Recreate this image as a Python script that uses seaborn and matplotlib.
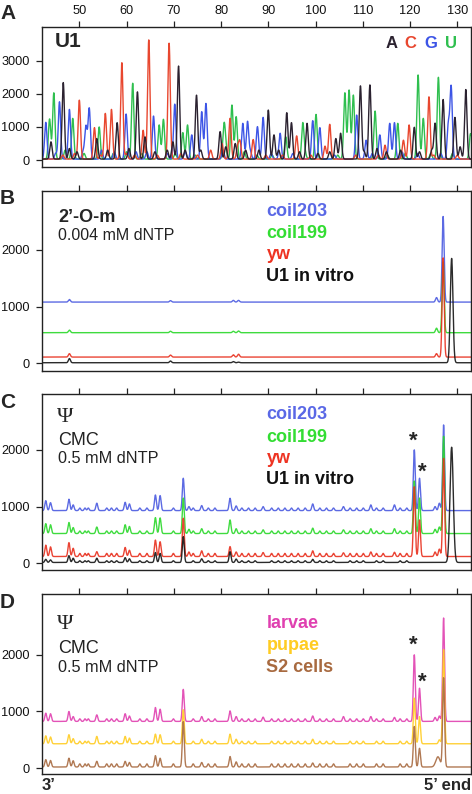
import numpy as np
import pandas as pd
import matplotlib
matplotlib.use("Agg")
import matplotlib.pyplot as plt
import seaborn as sns

# ---------------- data (peak positions in nucleotides, heights in signal units) -------------
# Panel A: U1 sequencing ladder (A black, C red, G blue, U green)
A_black_pos = [44.0, 46.6, 47.9, 49.5, 53.7, 56.0, 58.0, 60.5, 62.3, 63.9, 66.0, 68.6, 69.8, 71.0, 72.4,
               74.8, 75.7, 79.8, 81.0, 83.0, 85.2, 88.0, 90.0, 91.2, 92.2, 93.9, 94.9, 96.6, 98.2, 100.5,
               103.0, 104.3, 105.3, 109.5, 110.3, 111.5, 113.0, 115.0, 118.0, 120.9, 122.0, 124.6, 125.3,
               127.0, 129.5, 130.6, 131.8]
A_black_h = [550, 2340, 350, 250, 650, 300, 1130, 350, 2060, 700, 250, 300, 550, 2840, 300,
             1960, 300, 860, 400, 500, 300, 300, 1510, 760, 300, 1430, 1130, 250, 1110, 200,
             250, 650, 810, 2240, 250, 2270, 350, 250, 300, 990, 250, 300, 1110,
             1830, 1290, 400, 2130]
A_red_pos = [46.5, 49.0, 50.0, 53.2, 54.5, 55.5, 56.8, 59.0, 60.0, 61.7, 63.5, 64.7, 66.5, 69.0, 71.5,
             75.0, 77.8, 80.2, 81.9, 83.5, 84.0, 86.8, 89.5, 93.0, 96.0, 99.0, 102.0, 103.0, 108.5,
             113.3, 114.7, 118.6, 119.8, 124.0, 125.0, 130.0]
A_red_h = [150, 200, 1810, 980, 150, 1410, 1530, 2940, 200, 150, 900, 3630, 150, 3530, 200,
           150, 300, 500, 1260, 400, 550, 620, 150, 150, 730, 150, 420, 1080, 150,
           150, 450, 600, 1060, 1910, 150, 150]
A_blue_pos = [42.9, 45.0, 45.8, 47.9, 50.8, 51.4, 52.1, 54.7, 57.4, 59.9, 62.0, 64.3, 65.7, 68.6, 70.2,
              72.4, 73.8, 75.9, 76.8, 80.4, 84.6, 85.6, 86.2, 87.7, 88.9, 90.6, 92.5, 95.2, 99.4,
              100.9, 104.0, 108.7, 110.7, 112.0, 113.6, 115.7, 116.7, 118.3, 121.6, 126.5, 128.1, 128.7]
A_blue_h = [1140, 200, 1760, 1530, 250, 1010, 1560, 300, 250, 1390, 250, 250, 1330, 200, 1690,
            250, 760, 1460, 1710, 300, 1110, 1160, 250, 1010, 1290, 200, 810, 200, 1190,
            980, 150, 1360, 600, 200, 760, 1110, 1130, 250, 200, 200, 1060, 2200]
A_green_pos = [43.7, 44.6, 47.0, 48.6, 51.0, 54.2, 57.2, 60.0, 61.3, 63.2, 66.9, 67.8, 70.3, 71.9, 72.9,
               74.5, 80.6, 80.9, 82.3, 83.2, 84.9, 87.6, 90.8, 93.7, 97.3, 97.8, 100.1, 104.7, 106.2,
               107.1, 108.0, 112.6, 115.2, 117.4, 119.0, 121.7, 122.8, 124.4, 126.0, 129.0, 132.8]
A_green_h = [1240, 2030, 300, 1260, 200, 1000, 200, 250, 2320, 200, 1060, 1230, 200, 830, 1060,
             150, 900, 450, 1660, 1310, 250, 150, 150, 700, 1110, 200, 1380, 150, 2030,
             2110, 1960, 1480, 150, 1110, 200, 2570, 1260, 200, 2500, 200, 800]

# Panel B: 2'-O-m, 0.004 mM dNTP
B_baseline = {"coil203": 1080, "coil199": 540, "yw": 110, "U1 in vitro": 10}
B_pos = [47.9, 69.3, 82.6, 83.7, 125.6, 127.0, 128.8]
B_height = {"coil203":     [1125, 1105, 1110, 1110, 1160, 2590, 1080],
            "coil199":     [585, 565, 565, 570, 620, 1790, 540],
            "yw":          [170, 145, 150, 160, 170, 1860, 110],
            "U1 in vitro": [85, 40, 30, 20, 10, 10, 1850]}

# Panels C and D: shared small background bumps
CD_minor_pos = [50.1, 51.2, 51.9, 55.8, 56.8, 57.9, 62.8, 64.3, 69.9, 74.1, 77.3, 78.7, 84.4, 85.8, 87.2,
                90.7, 92.1, 93.5, 94.9, 96.3, 97.8, 100.9, 102.3, 103.8, 107.3, 108.7, 110.1, 112.9,
                114.3, 117.9, 119.3]

# Panel C: Psi, CMC, 0.5 mM dNTP
C_baseline = {"coil203": 930, "coil199": 525, "yw": 120, "U1 in vitro": 15}
C_minor = {"coil203": 45, "coil199": 45, "yw": 55, "U1 in vitro": 30}
C_pos = [42.9, 43.9, 47.8, 48.7, 53.7, 59.7, 60.6, 66.1, 67.1, 72.0, 73.2, 75.9, 81.9, 83.2, 88.9,
         99.4, 105.9, 111.7, 116.7, 120.9, 122.0, 125.3, 126.2, 127.1, 128.8]
C_height = {
    "coil203": [1105, 1070, 1130, 1030, 1060, 1076, 1047, 1205, 1194, 1500, 1000, 1018, 1147, 1012, 1000,
                1047, 1000, 1030, 1030, 2000, 1500, 1000, 1060, 2440, 930],
    "coil199": [700, 680, 720, 630, 640, 680, 650, 806, 800, 1150, 600, 610, 765, 610, 590,
                620, 590, 610, 610, 1450, 1150, 600, 640, 2240, 525],
    "yw":      [320, 290, 365, 265, 205, 280, 230, 410, 380, 795, 200, 220, 295, 200, 190,
                220, 185, 200, 195, 1350, 765, 200, 250, 1850, 120],
    "U1 in vitro": [70, 60, 135, 90, 90, 100, 80, 190, 175, 470, 15, 80, 205, 75, 15,
                    70, 15, 15, 15, 15, 15, 15, 15, 15, 2047]}

# Panel D: Psi, CMC, 0.5 mM dNTP, developmental stages
D_baseline = {"larvae": 825, "pupae": 430, "S2 cells": 20}
D_minor = {"larvae": 45, "pupae": 45, "S2 cells": 55}
D_pos = [42.9, 43.9, 47.8, 48.7, 53.7, 59.7, 60.6, 66.1, 67.1, 72.0, 75.9, 81.9, 83.2, 88.9, 99.4,
         105.9, 111.7, 116.7, 120.9, 122.0, 125.3, 125.9, 126.2, 127.1]
D_height = {
    "larvae":   [970, 960, 1000, 910, 940, 960, 920, 1070, 1040, 1390, 910, 1010, 910, 900, 920,
                 910, 910, 895, 2000, 1410, 895, 825, 920, 2650],
    "pupae":    [570, 550, 590, 520, 560, 560, 530, 600, 590, 1030, 510, 600, 510, 430, 510,
                 430, 430, 430, 1235, 910, 430, 430, 500, 2090],
    "S2 cells": [150, 135, 175, 130, 120, 120, 100, 220, 175, 820, 100, 205, 110, 20, 90,
                 20, 20, 20, 735, 350, 20, 200, 20, 1590]}

x_ticks = [50, 60, 70, 80, 90, 100, 110, 120, 130]

# ---------------- styles ----------------
A_colors = {"U": "#2fbf4f", "G": "#3d55e6", "C": "#e8472f", "A": "#2b2230"}
BC_colors = {"coil203": "#4a5ae0", "coil199": "#2ad82a", "yw": "#e8301e", "U1 in vitro": "#141414"}
BC_text = {"coil203": "#5a68e6", "coil199": "#33dd33", "yw": "#ee3322", "U1 in vitro": "#111111"}
D_colors = {"larvae": "#e040b0", "pupae": "#ffcc22", "S2 cells": "#a86a40"}

sns.set_theme(style="white")
plt.rcParams["font.family"] = ["Liberation Sans", "DejaVu Sans"]

W, H = 472, 794
fig = plt.figure(figsize=(W / 100, H / 100), dpi=100)
fig.patch.set_facecolor("white")
XLIM = (42.1, 132.9)
grid = np.arange(XLIM[0] - 0.5, XLIM[1] + 0.5, 0.02)


def trace(pos, heights, base, sigma, widths=None):
    y = np.full_like(grid, float(base))
    for p, h in zip(pos, heights):
        s = sigma if widths is None else widths.get(p, sigma)
        y += (h - base) * np.exp(-0.5 * ((grid - p) / s) ** 2)
    return y


def add_axes(top, bottom, ylim, yticks, toplabels=False):
    ax = fig.add_axes([42 / W, 1 - bottom / H, 429 / W, (bottom - top) / H])
    ax.set_xlim(*XLIM)
    ax.set_ylim(*ylim)
    ax.set_yticks(yticks)
    ax.set_yticklabels([str(t) for t in yticks])
    ax.xaxis.set_ticks_position("top")
    ax.set_xticks(x_ticks)
    ax.set_xticklabels([str(t) for t in x_ticks] if toplabels else [])
    ax.tick_params(axis="both", direction="out", length=4, width=0.9, color="#222222",
                   labelsize=9.2, pad=5, left=True, top=True, bottom=False, labelcolor="#111111")
    ax.tick_params(axis="x", pad=3.5)
    for s in ax.spines.values():
        s.set_linewidth(1.0)
        s.set_color("#222222")
    ax.set_xlabel("")
    ax.set_ylabel("")
    return ax


def draw(ax, y, color, lw=1.0, alpha=1.0):
    df = pd.DataFrame({"x": grid, "y": y})
    sns.lineplot(data=df, x="x", y="y", ax=ax, color=color, lw=lw, alpha=alpha,
                 estimator=None, sort=False)
    ax.set_xlabel("")
    ax.set_ylabel("")


def ftext(x, y, s, **kw):
    fig.text(x / W, 1 - y / H, s, **kw)


PSI_FONT = ["Liberation Serif", "DejaVu Serif"]

# ---------------- Panel A ----------------
axA = add_axes(27, 167, (-210, 4020), [0, 1000, 2000, 3000], toplabels=True)
for key, pos, hh in [("U", A_green_pos, A_green_h), ("G", A_blue_pos, A_blue_h),
                     ("C", A_red_pos, A_red_h), ("A", A_black_pos, A_black_h)]:
    draw(axA, trace(pos, hh, 30, 0.25), A_colors[key], lw=1.0)
ftext(55, 47, "U1", fontsize=15, fontweight="bold", va="baseline")
for lx, letter in zip([386, 404, 424, 445], ["A", "C", "G", "U"]):
    ftext(lx, 48.5, letter, fontsize=12, fontweight="bold", va="baseline", color=A_colors[letter])

# ---------------- Panel B ----------------
axB = add_axes(190.7, 370.5, (-127, 3045), [0, 1000, 2000])
for name in ["coil203", "coil199", "yw", "U1 in vitro"]:
    widths = {128.8: 0.28}
    draw(axB, trace(B_pos, B_height[name], B_baseline[name], 0.21, widths), BC_colors[name], alpha=0.9)
ftext(58, 221.5, "2’-O-m", fontsize=13, fontweight="bold", va="baseline")
ftext(58, 240.5, "0.004 mM dNTP", fontsize=11.5, va="baseline", color="#222222")
for yb, name in zip([215.7, 237.7, 259.3, 280.7], ["coil203", "coil199", "yw", "U1 in vitro"]):
    ftext(266.5, yb, name, fontsize=13, fontweight="bold", va="baseline", color=BC_text[name])

# ---------------- Panel C ----------------
axC = add_axes(394, 570, (-118, 2986), [0, 1000, 2000])
for name in ["coil203", "coil199", "yw", "U1 in vitro"]:
    base = C_baseline[name]
    y = trace(C_pos, C_height[name], base, 0.2, {128.8: 0.35})
    y += trace(CD_minor_pos, [base + C_minor[name]] * len(CD_minor_pos), base, 0.18) - base
    draw(axC, y, BC_colors[name], alpha=0.9)
ftext(57, 422, "Ψ", fontsize=16, va="baseline", family=PSI_FONT)
ftext(58, 445, "CMC", fontsize=13, va="baseline", color="#222222")
ftext(58, 463.3, "0.5 mM dNTP", fontsize=11.7, va="baseline", color="#222222")
for yb, name in zip([419.3, 441.7, 462.7, 484.3], ["coil203", "coil199", "yw", "U1 in vitro"]):
    ftext(266.5, yb, name, fontsize=13, fontweight="bold", va="baseline", color=BC_text[name])
ftext(413, 447, "*", fontsize=16, fontweight="bold", ha="center", va="baseline")
ftext(422.7, 478, "*", fontsize=16, fontweight="bold", ha="center", va="baseline")

# ---------------- Panel D ----------------
axD = add_axes(594, 773.5, (-95, 3074), [0, 1000, 2000])
for name in ["larvae", "pupae", "S2 cells"]:
    base = D_baseline[name]
    y = trace(D_pos, D_height[name], base, 0.2, {125.9: 0.45})
    y += trace(CD_minor_pos, [base + D_minor[name]] * len(CD_minor_pos), base, 0.18) - base
    draw(axD, y, D_colors[name], alpha=0.9)
ftext(57, 628.8, "Ψ", fontsize=16, va="baseline", family=PSI_FONT)
ftext(58, 653.3, "CMC", fontsize=13, va="baseline", color="#222222")
ftext(58, 671.7, "0.5 mM dNTP", fontsize=11.7, va="baseline", color="#222222")
for yb, name in zip([628.3, 650, 671.7], ["larvae", "pupae", "S2 cells"]):
    ftext(266.5, yb, name, fontsize=13, fontweight="bold", va="baseline", color=D_colors[name])
ftext(413, 651, "*", fontsize=16, fontweight="bold", ha="center", va="baseline")
ftext(422.7, 688, "*", fontsize=16, fontweight="bold", ha="center", va="baseline")

# ---------------- panel letters and ends ----------------
for lab, yb in [("A", 19), ("B", 203.5), ("C", 408.5), ("D", 608.5)]:
    ftext(0, yb, lab, fontsize=15, fontweight="bold", va="baseline")
ftext(42, 793.5, "3’", fontsize=12, fontweight="bold", va="bottom")
ftext(471, 793.5, "5’ end", fontsize=12, fontweight="bold", va="bottom", ha="right")

fig.savefig("out.png", dpi=100, facecolor="white")
